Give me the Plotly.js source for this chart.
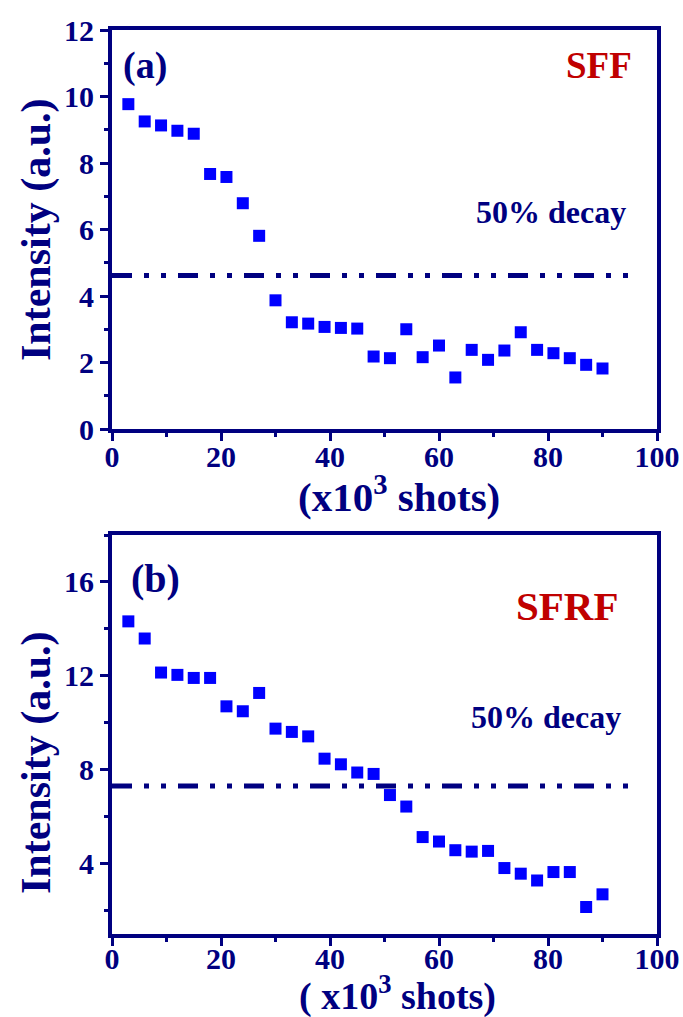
<!DOCTYPE html>
<html>
<head>
<meta charset="utf-8">
<script src="https://cdn.plot.ly/plotly-3.0.1.min.js"></script>
<style>html,body{margin:0;padding:0;background:#fff;}#chart{width:683px;height:1017px;}</style>
</head>
<body>
<div id="chart"></div>
<script>
// Shot counts (x10^3)
const shots = [3,6,9,12,15,18,21,24,27,30,33,36,39,42,45,48,51,54,57,60,63,66,69,72,75,78,81,84,87,90];
// Panel (a) SFF intensities
const sffIntensity = [9.77,9.25,9.13,8.97,8.88,7.67,7.58,6.79,5.81,3.87,3.21,3.17,3.07,3.04,3.02,2.18,2.13,3.0,2.16,2.51,1.55,2.38,2.08,2.36,2.91,2.38,2.28,2.13,1.93,1.82];
// Panel (b) SFRF intensities
const sfrfIntensity = [14.32,13.59,12.14,12.04,11.91,11.91,10.70,10.49,11.27,9.75,9.61,9.42,8.47,8.23,7.88,7.82,6.92,6.43,5.13,4.94,4.57,4.51,4.54,3.81,3.57,3.28,3.64,3.64,2.15,2.69];
// 50% decay levels and their x extents
const decayX = [0, 95.7];
const sffDecay = [4.62, 4.62];
const sfrfDecayX = [0, 95.2];
const sfrfDecay = [7.31, 7.31];
// Axis ranges
const xRange = [0, 100];
const yRangeA = [0, 12];
const yRangeB = [1, 18];
// Text labels
const yTitle = 'Intensity (a.u.)';
const xTitleA = '(x10<sup>3</sup> shots)';
const xTitleB = '( x10<sup>3</sup> shots)';

const NAVY = '#000080';
const RED = '#C00000';
const FONT = 'Liberation Serif, Times New Roman, serif';

const markerStyle = {symbol: 'square', size: 12, color: '#0000FF', line: {width: 0}};
const dashLine = {color: NAVY, width: 5, dash: '20px,12px,5px,12px,5px,12px'};

const traces = [
  {x: shots, y: sffIntensity, type: 'scatter', mode: 'markers', marker: markerStyle, xaxis: 'x', yaxis: 'y', showlegend: false, cliponaxis: false},
  {x: decayX, y: sffDecay, type: 'scatter', mode: 'lines', line: dashLine, xaxis: 'x', yaxis: 'y', showlegend: false},
  {x: shots, y: sfrfIntensity, type: 'scatter', mode: 'markers', marker: markerStyle, xaxis: 'x2', yaxis: 'y2', showlegend: false, cliponaxis: false},
  {x: sfrfDecayX, y: sfrfDecay, type: 'scatter', mode: 'lines', line: dashLine, xaxis: 'x2', yaxis: 'y2', showlegend: false}
];

const tickFont = {family: FONT, size: 30, color: NAVY, weight: 'bold'};

function xAxis(anchor, standoff) {
  return {
    range: xRange, domain: [0, 1], anchor: anchor,
    tickmode: 'linear', tick0: 0, dtick: 20,
    ticks: 'outside', ticklen: 8, tickwidth: 3, tickcolor: NAVY,
    minor: {dtick: 10, ticks: 'outside', ticklen: 4, tickwidth: 3, tickcolor: NAVY},
    showline: true, linewidth: 4, linecolor: NAVY, mirror: true,
    showgrid: false, zeroline: false,
    tickfont: tickFont, ticklabelstandoff: standoff,
    automargin: false
  };
}
function yAxis(domain, anchor, range, dtick, minorDtick) {
  return {
    range: range, domain: domain, anchor: anchor,
    tickmode: 'linear', tick0: 0, dtick: dtick,
    ticks: 'outside', ticklen: 8, tickwidth: 3, tickcolor: NAVY,
    minor: {dtick: minorDtick, tick0: 0, ticks: 'outside', ticklen: 4, tickwidth: 3, tickcolor: NAVY},
    showline: true, linewidth: 4, linecolor: NAVY, mirror: true,
    showgrid: false, zeroline: false,
    tickfont: tickFont,
    automargin: false
  };
}

// plot area in pixels: left 112, right 657; top panel 30-429, bottom panel 535-934
const W = 683, H = 1017, L = 112, R = 26, T = 30, B = 83;
const pw = W - L - R, ph = H - T - B;
const px = v => (v - L) / pw;
const py = v => (H - B - v) / ph;

function ann(x, y, text, size, color, angle) {
  return {xref: 'paper', yref: 'paper', x: px(x), y: py(y), text: text, showarrow: false,
    xanchor: 'center', yanchor: 'middle', textangle: angle || 0,
    font: {family: FONT, size: size, color: color, weight: 'bold'}};
}

const layout = {
  width: W, height: H,
  margin: {l: L, r: R, t: T, b: B},
  paper_bgcolor: '#fff', plot_bgcolor: '#fff',
  showlegend: false,
  xaxis: xAxis('y', -10),
  yaxis: yAxis([py(429), 1], 'x', yRangeA, 2, 1),
  xaxis2: xAxis('y2', -13),
  yaxis2: yAxis([0, py(535)], 'x2', yRangeB, 4, 2),
  annotations: [
    ann(36, 230, yTitle, 42, NAVY, -90),
    ann(36, 763, yTitle, 42, NAVY, -90),
    ann(399, 494, xTitleA, 41, NAVY),
    ann(397, 993, xTitleB, 38, NAVY),
    ann(145, 66, '(a)', 38, NAVY),
    ann(599, 65, 'SFF', 37, RED),
    ann(551, 212, '50% decay', 32, NAVY),
    ann(155, 578, '(b)', 40, NAVY),
    ann(567, 606, 'SFRF', 41, RED),
    ann(546, 717, '50% decay', 32, NAVY)
  ]
};

Plotly.newPlot('chart', traces, layout, {displayModeBar: false, staticPlot: true});
</script>
</body>
</html>
